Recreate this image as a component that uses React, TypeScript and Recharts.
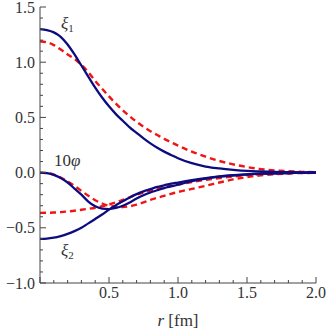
import { LineChart, Line, XAxis, YAxis } from 'recharts';

// radial grid (fm)
const rValues = [
  0, 0.05, 0.1, 0.15, 0.2, 0.25, 0.3, 0.35, 0.4, 0.45, 0.5, 0.55, 0.6, 0.65, 0.7, 0.75,
  0.8, 0.85, 0.9, 0.95, 1.0, 1.1, 1.2, 1.3, 1.4, 1.5, 1.6, 1.7, 1.8, 1.9, 2.0,
];

// solid (blue) curves
const xi1Solid = [
  1.3, 1.29, 1.27, 1.23, 1.16, 1.07, 0.97, 0.87, 0.77, 0.68, 0.6, 0.53, 0.47, 0.41, 0.36, 0.31,
  0.265, 0.225, 0.19, 0.16, 0.13, 0.085, 0.055, 0.038, 0.025, 0.015, 0.01, 0.006, 0.004, 0.002, 0.001,
];
const phiSolid = [
  0, -0.005, -0.02, -0.05, -0.09, -0.145, -0.2, -0.262, -0.305, -0.326, -0.33, -0.32, -0.3, -0.27,
  -0.235, -0.205, -0.18, -0.16, -0.14, -0.125, -0.11, -0.078, -0.054, -0.037, -0.025, -0.016, -0.01,
  -0.006, -0.004, -0.002, -0.001,
];
const xi2Solid = [
  -0.6, -0.598, -0.59, -0.575, -0.555, -0.53, -0.5, -0.46, -0.42, -0.38, -0.335, -0.295, -0.26,
  -0.225, -0.195, -0.17, -0.15, -0.13, -0.115, -0.1, -0.09, -0.068, -0.05, -0.035, -0.024, -0.016,
  -0.01, -0.006, -0.004, -0.002, -0.001,
];

// dashed (red) curves
const xi1Dashed = [
  1.19, 1.18, 1.155, 1.115, 1.07, 1.03, 0.975, 0.91, 0.83, 0.76, 0.69, 0.625, 0.565, 0.51, 0.46,
  0.415, 0.375, 0.34, 0.305, 0.275, 0.245, 0.19, 0.145, 0.105, 0.075, 0.05, 0.032, 0.02, 0.012,
  0.007, 0.004,
];
const phiDashed = [
  0, -0.004, -0.018, -0.045, -0.08, -0.12, -0.165, -0.21, -0.25, -0.28, -0.3, -0.31, -0.312,
  -0.305, -0.29, -0.27, -0.248, -0.228, -0.21, -0.192, -0.176, -0.148, -0.12, -0.09, -0.062, -0.04,
  -0.025, -0.014, -0.008, -0.004, -0.002,
];
const xi2Dashed = [
  -0.365, -0.364, -0.362, -0.358, -0.352, -0.345, -0.337, -0.328, -0.318, -0.305, -0.29, -0.27,
  -0.248, -0.224, -0.2, -0.18, -0.162, -0.146, -0.132, -0.12, -0.108, -0.086, -0.066, -0.049,
  -0.035, -0.023, -0.014, -0.008, -0.004, -0.002, -0.001,
];

const xTicks = [
  0, 0.1, 0.2, 0.3, 0.4, 0.5, 0.6, 0.7, 0.8, 0.9, 1.0, 1.1, 1.2, 1.3, 1.4, 1.5, 1.6, 1.7, 1.8, 1.9, 2.0,
];
const yTicks = [
  -1.0, -0.9, -0.8, -0.7, -0.6, -0.5, -0.4, -0.3, -0.2, -0.1, 0, 0.1, 0.2, 0.3, 0.4, 0.5, 0.6, 0.7,
  0.8, 0.9, 1.0, 1.1, 1.2, 1.3, 1.4, 1.5,
];

const data = rValues.map((r, i) => ({
  r,
  xi1Solid: xi1Solid[i],
  phiSolid: phiSolid[i],
  xi2Solid: xi2Solid[i],
  xi1Dashed: xi1Dashed[i],
  phiDashed: phiDashed[i],
  xi2Dashed: xi2Dashed[i],
}));

const BLUE = '#0c0c80';
const RED = '#f01414';
const FRAME = '#444';
const TEXT = '#333';
const FONT = 'Liberation Serif, Times New Roman, serif';

const isMajor = (v: number) => Math.abs(v * 2 - Math.round(v * 2)) < 1e-6;
const fmt = (v: number) => v.toFixed(1).replace('-', '\u2212');

const MAJOR = 6;
const MINOR = 3;

// ticks drawn by hand so minor/major can differ and point inwards
function BottomTick(props: any) {
  const { x, y, payload } = props;
  const major = isMajor(payload.value);
  return (
    <g>
      <line x1={x} x2={x} y1={y} y2={y - (major ? MAJOR : MINOR)} stroke={FRAME} />
      {major && payload.value > 0 && (
        <text x={x} y={y + 15} textAnchor="middle" fill={TEXT} style={{ fontSize: 16, fontFamily: FONT }}>
          {fmt(payload.value)}
        </text>
      )}
    </g>
  );
}

function TopTick(props: any) {
  const { x, y, payload } = props;
  const major = isMajor(payload.value);
  return <line x1={x} x2={x} y1={y} y2={y + (major ? MAJOR : MINOR)} stroke={FRAME} />;
}

function LeftTick(props: any) {
  const { x, y, payload } = props;
  const major = isMajor(payload.value);
  return (
    <g>
      <line x1={x} x2={x + (major ? MAJOR : MINOR)} y1={y} y2={y} stroke={FRAME} />
      {major && (
        <text x={x - 5} y={y} dy="0.35em" textAnchor="end" fill={TEXT} style={{ fontSize: 16, fontFamily: FONT }}>
          {fmt(payload.value)}
        </text>
      )}
    </g>
  );
}

function RightTick(props: any) {
  const { x, y, payload } = props;
  const major = isMajor(payload.value);
  return <line x1={x} x2={x - (major ? MAJOR : MINOR)} y1={y} y2={y} stroke={FRAME} />;
}

export default function App() {
  return (
    <div style={{ position: 'absolute', left: 0, top: 0, width: 327, height: 332, fontFamily: FONT }}>
      <LineChart
        width={327}
        height={332}
        data={data}
        margin={{ top: 7, right: 11, bottom: 0, left: 0 }}
      >
        <XAxis
          dataKey="r"
          type="number"
          domain={[0, 2]}
          ticks={xTicks}
          interval={0}
          height={49}
          tickSize={0}
          tickMargin={0}
          tickLine={false}
          axisLine={{ stroke: FRAME }}
          tick={BottomTick}
        />
        <XAxis
          xAxisId="top"
          orientation="top"
          dataKey="r"
          type="number"
          domain={[0, 2]}
          ticks={xTicks}
          interval={0}
          height={0}
          tickSize={0}
          tickMargin={0}
          tickLine={false}
          axisLine={{ stroke: FRAME }}
          tick={TopTick}
        />
        <YAxis
          type="number"
          domain={[-1, 1.5]}
          ticks={yTicks}
          interval={0}
          width={40}
          tickSize={0}
          tickMargin={0}
          tickLine={false}
          axisLine={{ stroke: FRAME }}
          tick={LeftTick}
        />
        <YAxis
          yAxisId="right"
          orientation="right"
          type="number"
          domain={[-1, 1.5]}
          ticks={yTicks}
          interval={0}
          width={0}
          tickSize={0}
          tickMargin={0}
          tickLine={false}
          axisLine={{ stroke: FRAME }}
          tick={RightTick}
        />
        <Line dataKey="xi1Dashed" type="monotone" stroke={RED} strokeWidth={2.4} strokeDasharray="6 4" dot={false} isAnimationActive={false} />
        <Line dataKey="phiDashed" type="monotone" stroke={RED} strokeWidth={2.4} strokeDasharray="6 4" dot={false} isAnimationActive={false} />
        <Line dataKey="xi2Dashed" type="monotone" stroke={RED} strokeWidth={2.4} strokeDasharray="6 4" dot={false} isAnimationActive={false} />
        <Line dataKey="xi1Solid" type="monotone" stroke={BLUE} strokeWidth={2.3} dot={false} isAnimationActive={false} />
        <Line dataKey="phiSolid" type="monotone" stroke={BLUE} strokeWidth={2.3} dot={false} isAnimationActive={false} />
        <Line dataKey="xi2Solid" type="monotone" stroke={BLUE} strokeWidth={2.3} dot={false} isAnimationActive={false} />
      </LineChart>
      <svg
        width={327}
        height={332}
        style={{ position: 'absolute', left: 0, top: 0, pointerEvents: 'none' }}
      >
        <g fill={TEXT} style={{ fontFamily: FONT, fontSize: 17 }}>
          <text x={61} y={29}>
            <tspan fontStyle="italic">ξ</tspan>
            <tspan fontSize={11} dy={3}>1</tspan>
          </text>
          <text x={54} y={166}>
            10<tspan fontStyle="italic">φ</tspan>
          </text>
          <text x={61} y={256}>
            <tspan fontStyle="italic">ξ</tspan>
            <tspan fontSize={11} dy={3}>2</tspan>
          </text>
          <text x={178} y={326} textAnchor="middle">
            <tspan fontStyle="italic">r</tspan> [fm]
          </text>
        </g>
      </svg>
    </div>
  );
}
